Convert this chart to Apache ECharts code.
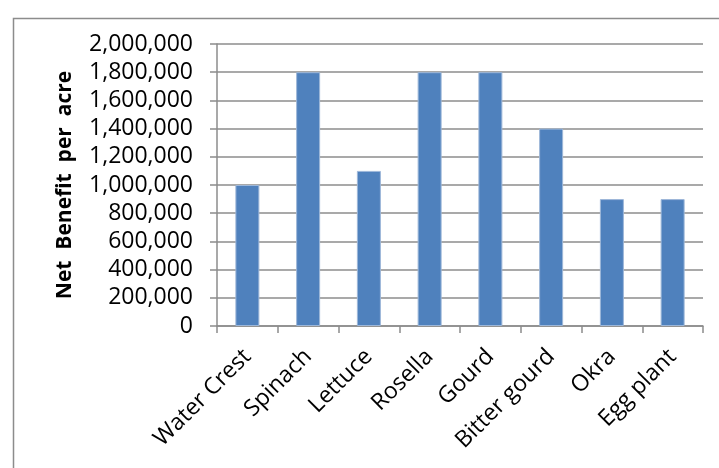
<!DOCTYPE html>
<html>
<head>
<meta charset="utf-8">
<script src="https://cdn.jsdelivr.net/npm/echarts@6/dist/echarts.min.js"></script>
<style>
html,body{margin:0;padding:0;background:#fff;}
#c{width:719px;height:468px;}
</style>
</head>
<body>
<div id="c"></div>
<script>
const categories = ['Water Crest','Spinach','Lettuce','Rosella','Gourd','Bitter gourd','Okra','Egg plant'];
const netBenefit = [1000000,1800000,1100000,1800000,1800000,1400000,900000,900000];
const yAxisTitle = 'Net  Benefit  per  acre';

const chart = echarts.init(document.getElementById('c'), null, {renderer:'canvas'});
const font = '"Open Sans", "Noto Sans", sans-serif';
chart.setOption({
  animation:false,
  backgroundColor:'#fff',
  graphic:[{
    type:'rect', left:11, top:16,
    shape:{x:0,y:0,width:760,height:500},
    style:{fill:'none', stroke:'#8c8c8c', lineWidth:1.5}, silent:true
  }],
  grid:{left:217,right:16,top:44,bottom:142,containLabel:false},
  xAxis:{
    type:'category', data:categories,
    axisLine:{lineStyle:{color:'#8c8c8c',width:1.5}},
    axisTick:{show:true,alignWithLabel:false,length:7,lineStyle:{color:'#8c8c8c',width:1.5}},
    axisLabel:{rotate:45,margin:27,color:'#000',fontFamily:font,fontSize:23,interval:0}
  },
  yAxis:{
    type:'value', min:0, max:2000000, interval:200000,
    name:yAxisTitle, nameLocation:'middle', nameGap:141, nameRotate:90,
    nameTextStyle:{fontFamily:font,fontSize:21,fontWeight:'bold',color:'#000'},
    axisLine:{show:true,lineStyle:{color:'#8c8c8c',width:1.5}},
    axisTick:{show:true,length:7,lineStyle:{color:'#8c8c8c',width:1.5}},
    splitLine:{lineStyle:{color:'#8c8c8c',width:1.5}},
    axisLabel:{margin:24,color:'#000',fontFamily:font,fontSize:23,
      formatter:v=>v.toLocaleString('en-US')}
  },
  series:[{
    type:'bar', data:netBenefit, barWidth:24,
    itemStyle:{color:'#4f81bd',borderColor:'#9db7d9',borderWidth:1}
  }]
});
</script>
</body>
</html>
